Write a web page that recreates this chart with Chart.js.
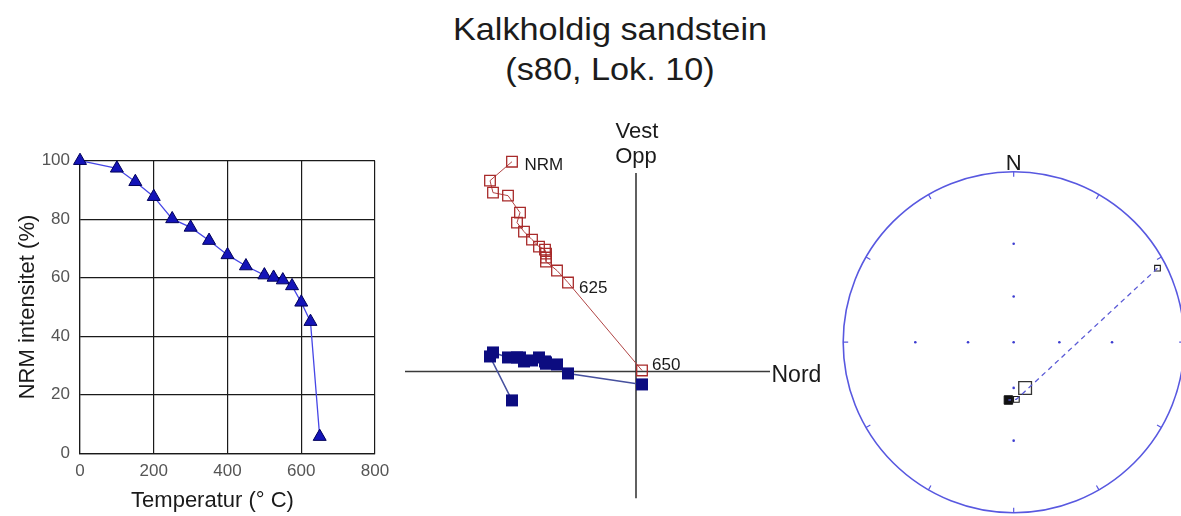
<!DOCTYPE html>
<html>
<head>
<meta charset="utf-8">
<title>Kalkholdig sandstein (s80, Lok. 10)</title>
<script src="https://cdn.jsdelivr.net/npm/chart.js@4.4.1/dist/chart.umd.min.js"></script>
<style>
  html, body { margin: 0; padding: 0; background: #fff; overflow: hidden; width: 1181px; height: 516px; }
  body { position: relative; font-family: "Liberation Sans", Arial, sans-serif; }
  canvas { position: absolute; }
  #title {
    position: absolute; left: 410px; top: 9px; width: 400px;
    text-align: center; font-size: 32px; line-height: 40px; color: #1c1c1c;
    transform: scaleX(1.07);
  }
</style>
</head>
<body>
<div id="title">Kalkholdig sandstein<br>(s80, Lok. 10)</div>
<canvas id="decay" width="400" height="376" style="left:0;top:140px;width:400px;height:376px"></canvas>
<canvas id="zijder" width="440" height="416" style="left:400px;top:100px;width:440px;height:416px"></canvas>
<canvas id="stereo" width="351" height="366" style="left:830px;top:150px;width:351px;height:366px"></canvas>

<script>
// Thermal demagnetisation steps (°C)
const temps = [0, 100, 150, 200, 250, 300, 350, 400, 450, 500, 525, 550, 575, 600, 625, 650];
// Remaining NRM intensity after each step, percent of the initial value
const nrmPercent = [100, 97.4, 92.8, 87.7, 80.1, 77.2, 72.7, 67.8, 64.0, 60.9, 60.1, 59.2, 57.2, 51.6, 45.0, 5.7];
const tempTicks = [0, 200, 400, 600, 800];
const percentTicks = [0, 20, 40, 60, 80, 100];

// Orthogonal vector components for each step (same units on both axes)
const northComp = [-12.4, -14.6, -14.3, -12.8, -11.6, -11.9, -11.2, -10.4, -9.7, -9.1, -9.0, -9.0, -9.0, -7.9, -6.8, 0.6];
const westComp  = [-2.9, 1.5, 1.9, 1.4, 1.4, 1.4, 1.0, 1.1, 1.4, 1.0, 0.9, 0.8, 0.8, 0.7, -0.2, -1.3];
const upComp    = [21.0, 19.1, 17.9, 17.6, 15.9, 14.9, 14.0, 13.2, 12.5, 12.2, 11.8, 11.4, 11.0, 10.1, 8.9, 0.1];
// Steps that get a text label next to the vertical-projection point
const labelledSteps = [0, 625, 650];

// Stereonet: step directions (declination, inclination in degrees)
const stepDec = [62.8, 177.3, 185.2];
const stepInc = [-3.0, -52.9, 52.4];
// Fitted component direction
const meanDec = [166.0];
const meanInc = [-59.0];
// Inclinations marked by grid dots along the N-S and E-W diameters
const gridInc = [30, 60];

Chart.defaults.font.family = '"Liberation Sans", Arial, sans-serif';
Chart.defaults.color = '#1a1a1a';

const baseOpts = {
  responsive: false,
  animation: false,
  devicePixelRatio: 1,
  events: [],
  plugins: { legend: { display: false }, tooltip: { enabled: false } }
};

/* ---------- Intensity decay curve ---------- */
const decayCaption = {
  id: 'decayCaption',
  afterDraw(chart) {
    const ctx = chart.ctx;
    ctx.save();
    ctx.fillStyle = '#1a1a1a';
    ctx.font = '22px "Liberation Sans", Arial, sans-serif';
    ctx.textAlign = 'center';
    ctx.textBaseline = 'alphabetic';
    ctx.fillText('Temperatur (° C)', 212.5, 367);
    ctx.restore();
  }
};

new Chart(document.getElementById('decay'), {
  type: 'scatter',
  data: {
    datasets: [{
      data: temps.map((t, i) => ({ x: t, y: nrmPercent[i] })),
      showLine: true,
      borderColor: '#4646e6',
      borderWidth: 1.3,
      pointStyle: 'triangle',
      pointRadius: 7.5,
      pointBackgroundColor: '#1414b8',
      pointBorderColor: '#00005a',
      pointBorderWidth: 1,
      clip: false
    }]
  },
  options: {
    ...baseOpts,
    layout: { autoPadding: false, padding: { top: 20.7, right: 25, left: 0, bottom: 0 } },
    scales: {
      x: {
        type: 'linear', min: 0, max: 800,
        afterBuildTicks: s => { s.ticks = tempTicks.map(v => ({ value: v })); },
        afterFit: s => { s.height = 62.7; },
        grid: { color: '#1a1a1a', lineWidth: 1.2, drawTicks: false },
        border: { color: '#1a1a1a', width: 1.2 },
        ticks: { color: '#555', font: { size: 17 }, padding: 8, maxRotation: 0 }
      },
      y: {
        type: 'linear', min: 0, max: 100,
        afterBuildTicks: s => { s.ticks = percentTicks.map(v => ({ value: v })); },
        afterFit: s => { s.width = 80; },
        grid: { color: '#1a1a1a', lineWidth: 1.2, drawTicks: false },
        border: { color: '#1a1a1a', width: 1.2 },
        ticks: { color: '#555', font: { size: 17 }, padding: 10 },
        title: {
          display: true, text: 'NRM intensitet (%)', color: '#1a1a1a',
          font: { size: 22 }, padding: { top: 15, bottom: 0 }
        }
      }
    }
  },
  plugins: [decayCaption]
});

/* ---------- Orthogonal vector plot ---------- */
// The axis cross ends a little below the top of the plotting area,
// so that the NRM point can sit above the end of the vertical axis.
const zijderAxes = {
  id: 'zijderAxes',
  beforeDatasetsDraw(chart, args, opts) {
    const { ctx, chartArea: a, scales: { x, y } } = chart;
    const x0 = x.getPixelForValue(0);
    const y0 = y.getPixelForValue(0);
    const yTop = y.getPixelForValue(opts.upEnd);
    ctx.save();
    ctx.strokeStyle = '#3a3a3a';
    ctx.lineWidth = 1.6;
    ctx.beginPath();
    ctx.moveTo(a.left, y0); ctx.lineTo(a.right, y0);
    ctx.moveTo(x0, yTop); ctx.lineTo(x0, a.bottom);
    ctx.stroke();
    ctx.fillStyle = '#1a1a1a';
    ctx.font = '22px "Liberation Sans", Arial, sans-serif';
    ctx.textBaseline = 'alphabetic';
    ctx.textAlign = 'center';
    ctx.fillText('Vest', x0 + 1, yTop - 35);
    ctx.fillText('Opp', x0, yTop - 10);
    ctx.textAlign = 'left';
    ctx.font = '23px "Liberation Sans", Arial, sans-serif';
    ctx.fillText('Nord', a.right + 1.5, y0 + 10.3);
    ctx.restore();
  }
};

const stepLabels = {
  id: 'stepLabels',
  afterDatasetsDraw(chart) {
    const { ctx } = chart;
    const pts = chart.getDatasetMeta(1).data;
    const offsets = { 0: [12.5, 8.5], 625: [11, 10.6], 650: [10, -0.5] };
    ctx.save();
    ctx.fillStyle = '#1a1a1a';
    ctx.font = '17px "Liberation Sans", Arial, sans-serif';
    ctx.textAlign = 'left';
    ctx.textBaseline = 'alphabetic';
    labelledSteps.forEach(t => {
      const i = temps.indexOf(t);
      const p = pts[i];
      const [dx, dy] = offsets[t];
      ctx.fillText(t === 0 ? 'NRM' : String(t), p.x + dx, p.y + dy);
    });
    ctx.restore();
  }
};

new Chart(document.getElementById('zijder'), {
  type: 'scatter',
  data: {
    datasets: [
      {
        label: 'Nord / Vest',
        data: northComp.map((n, i) => ({ x: n, y: westComp[i] })),
        showLine: true,
        borderColor: '#46509e',
        borderWidth: 1.5,
        pointStyle: 'rect',
        pointRadius: 8.5,
        pointBackgroundColor: '#0c0c80',
        pointBorderColor: '#0c0c80',
        pointBorderWidth: 0,
        clip: false
      },
      {
        label: 'Nord / Opp',
        data: northComp.map((n, i) => ({ x: n, y: upComp[i] })),
        showLine: true,
        borderColor: '#b04444',
        borderWidth: 1,
        pointStyle: 'rect',
        pointRadius: 7.5,
        pointBackgroundColor: 'rgba(0,0,0,0)',
        pointBorderColor: '#a82a2a',
        pointBorderWidth: 1.3,
        clip: false
      }
    ]
  },
  options: {
    ...baseOpts,
    layout: { autoPadding: false, padding: { left: 5, right: 70, top: 46.7, bottom: 17.7 } },
    scales: {
      x: { type: 'linear', display: false, min: -23.1, max: 13.4 },
      y: { type: 'linear', display: false, min: -12.7, max: 22.5 }
    },
    plugins: { ...baseOpts.plugins, zijderAxes: { upEnd: 19.87 } }
  },
  plugins: [zijderAxes, stepLabels]
});

/* ---------- Stereographic (Wulff) projection ---------- */
const wulffRadius = inc => Math.tan((90 - Math.abs(inc)) / 2 * Math.PI / 180);
const toXY = (dec, inc) => {
  const r = wulffRadius(inc);
  const d = dec * Math.PI / 180;
  return { x: r * Math.sin(d), y: r * Math.cos(d) };
};

const stereoFrame = {
  id: 'stereoFrame',
  beforeDatasetsDraw(chart) {
    const { ctx, scales: { x, y } } = chart;
    const cx = x.getPixelForValue(0);
    const cy = y.getPixelForValue(0);
    const R = cy - y.getPixelForValue(1);
    ctx.save();
    ctx.strokeStyle = '#5858e0';
    ctx.lineWidth = 1.6;
    ctx.beginPath();
    ctx.arc(cx, cy, R, 0, Math.PI * 2);
    ctx.stroke();
    // rim ticks every 30 degrees of declination
    ctx.lineWidth = 1.2;
    ctx.beginPath();
    for (let a = 0; a < 360; a += 30) {
      const r = a * Math.PI / 180;
      const sx = Math.sin(r), sy = -Math.cos(r);
      ctx.moveTo(cx + sx * R, cy + sy * R);
      ctx.lineTo(cx + sx * (R - 5), cy + sy * (R - 5));
    }
    ctx.stroke();
    // grid dots at the centre and along the main diameters
    ctx.fillStyle = '#3c3cd0';
    const dot = (px, py) => { ctx.beginPath(); ctx.arc(px, py, 1.3, 0, Math.PI * 2); ctx.fill(); };
    dot(cx, cy);
    gridInc.forEach(inc => {
      [0, 90, 180, 270].forEach(dec => {
        const p = toXY(dec, inc);
        dot(x.getPixelForValue(p.x), y.getPixelForValue(p.y));
      });
    });
    ctx.fillStyle = '#1a1a1a';
    ctx.font = '22px "Liberation Sans", Arial, sans-serif';
    ctx.textAlign = 'center';
    ctx.textBaseline = 'alphabetic';
    ctx.fillText('N', cx, cy - R - 1.5);
    ctx.restore();
  }
};

const stepPts = stepDec.map((d, i) => ({ ...toXY(d, stepInc[i]), inc: stepInc[i] }));
const upperPts = stepPts.filter(p => p.inc < 0);
const lowerPts = stepPts.filter(p => p.inc >= 0);
const meanPts = meanDec.map((d, i) => toXY(d, meanInc[i]));

new Chart(document.getElementById('stereo'), {
  type: 'scatter',
  data: {
    datasets: [
      {
        data: stepPts,
        showLine: true,
        borderColor: '#5a5ad6',
        borderWidth: 1.3,
        borderDash: [5, 4],
        pointRadius: 0,
        clip: false
      },
      {
        data: meanPts,
        pointStyle: 'rect',
        pointRadius: 9,
        pointBackgroundColor: 'rgba(0,0,0,0)',
        pointBorderColor: '#333',
        pointBorderWidth: 1.3,
        clip: false
      },
      {
        data: upperPts,
        pointStyle: 'rect',
        pointRadius: 4,
        pointBackgroundColor: 'rgba(255,255,255,0)',
        pointBorderColor: '#1a1a1a',
        pointBorderWidth: 1.1,
        clip: false
      },
      {
        data: lowerPts,
        pointStyle: 'rect',
        pointRadius: 6,
        pointBackgroundColor: '#111',
        pointBorderColor: '#111',
        pointBorderWidth: 1,
        clip: false
      },
      {
        data: lowerPts,
        pointStyle: 'circle',
        pointRadius: 3,
        pointBackgroundColor: '#1818b8',
        pointBorderColor: '#1818b8',
        pointBorderWidth: 0,
        clip: false
      }
    ]
  },
  options: {
    ...baseOpts,
    // the plotting square runs past the right edge of the page; the x range
    // is cut at 0.982 of the radius so both axes keep the same scale
    layout: { autoPadding: false, padding: { left: 13.3, right: 0, top: 21.7, bottom: 3.3 } },
    scales: {
      x: { type: 'linear', display: false, min: -1, max: 0.982 },
      y: { type: 'linear', display: false, min: -1, max: 1 }
    }
  },
  plugins: [stereoFrame]
});
</script>
</body>
</html>
